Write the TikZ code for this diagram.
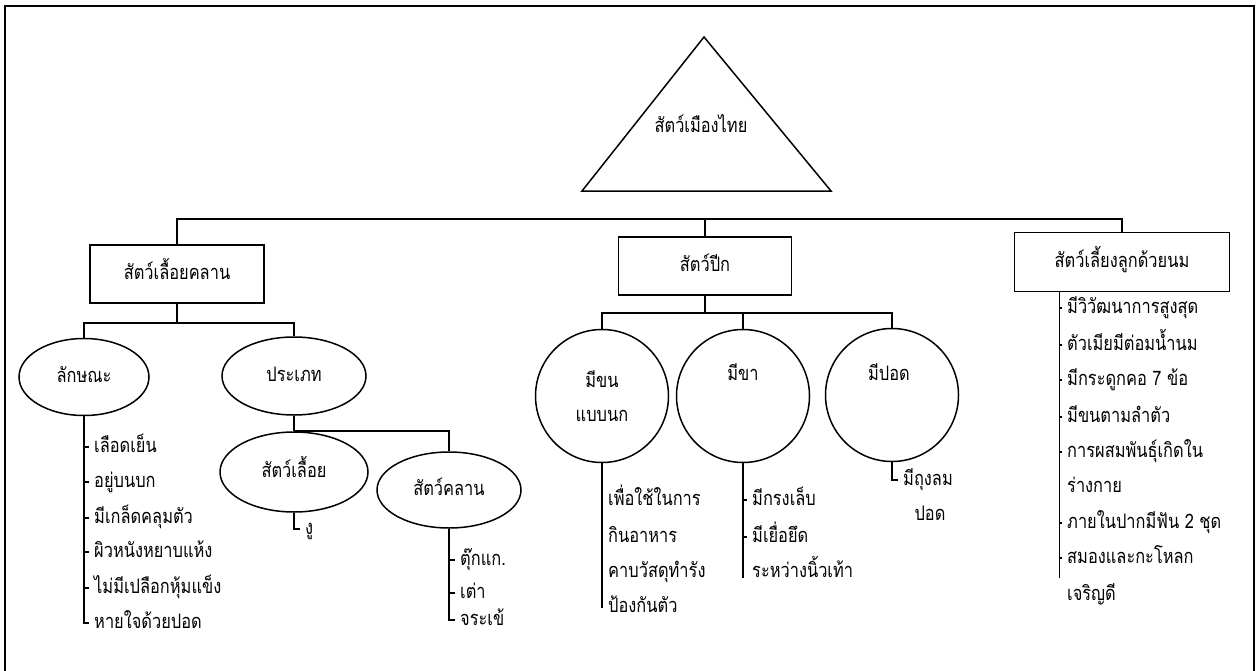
\documentclass[tikz,border=0pt]{standalone}
\usepackage{fontspec}
\newfontfamily\thaifont[Script=Thai,FakeStretch=0.82]{Loma}
\usetikzlibrary{shapes.geometric,calc}
\begin{document}
\begin{tikzpicture}[x=1pt,y=-1pt,
  th/.style={font=\thaifont\fontsize{20}{34}\selectfont},
  conn/.style={line width=1.6pt},
  box/.style={draw,line width=1.7pt,th,inner sep=0pt,text height=10pt,text depth=0pt},
  ell/.style={draw,ellipse,line width=1.5pt,th,inner sep=0pt,text height=10pt,text depth=0pt},
  circ/.style={draw,circle,line width=1.5pt,th,inner sep=0pt,minimum size=133pt,align=center},
  lbl/.style={th,inner sep=0pt,text height=10pt,text depth=0pt},
  item/.style={th,anchor=west,inner xsep=5pt,inner ysep=0pt,text height=10pt,text depth=0pt}]
\useasboundingbox (0,0) rectangle (1257,671);
% frame
\draw[line width=1.8pt] (5,671) -- (5,6) -- (1254,6) -- (1254,671);
% root triangle
\coordinate (tA) at (704,37);
\coordinate (tL) at (582,191);
\coordinate (tR) at (831,191);
\draw[line width=1.5pt] (tA) -- (tL) -- (tR) -- cycle;
\node[lbl] (root) at (701,128) {สัตว์เมืองไทย};
% level 1 boxes
\node[box,minimum width=174pt,minimum height=58pt] (rep) at (177,274) {สัตว์เลื้อยคลาน};
\node[box,minimum width=173pt,minimum height=58pt] (bird) at (705,266) {สัตว์ปีก};
\node[box,minimum width=215pt,minimum height=59pt] (mam) at (1122,262) {สัตว์เลี้ยงลูกด้วยนม};
\draw[conn] (rep.north) -- ++(0,-25) coordinate (hl) -| (mam.north);
\draw[conn] (bird.north) -- (bird.north |- hl);
% reptiles
\node[ell,minimum width=130pt,minimum height=77pt] (lak) at (84,377) {ลักษณะ};
\node[ell,minimum width=144pt,minimum height=78pt] (prap) at (294,376) {ประเภท};
\draw[conn] (rep.south) -- ++(0,19) coordinate (rb);
\draw[conn] (lak.north) |- (rb) -| (prap.north);
\node[ell,minimum width=148pt,minimum height=80pt] (slw) at (294,472) {สัตว์เลื้อย};
\node[ell,minimum width=144pt,minimum height=76pt] (skl) at (449,490) {สัตว์คลาน};
\draw[conn] (prap.south) -- (slw.north);
\draw[conn] (slw.north) -| (skl.north);
% characteristics list
\node[item] (l1) at (89,447) {เลือดเย็น};
\node[item] (l2) at (89,482) {อยู่บนบก};
\node[item] (l3) at (89,518) {มีเกล็ดคลุมตัว};
\node[item] (l4) at (89,552) {ผิวหนังหยาบแห้ง};
\node[item] (l5) at (89,588) {ไม่มีเปลือกหุ้มแข็ง};
\node[item] (l6) at (89,623) {หายใจด้วยปอด};
\draw[conn] (lak.south) |- (l6.west);
\foreach \n in {l1,l2,l3,l4,l5} \draw[conn] (lak.south |- \n.west) -- (\n.west);
% snake
\node[item] (s1) at (300,529) {งู};
\draw[conn] (slw.south) |- (s1.west);
% crawling
\node[item] (k1) at (455,560) {ตุ๊กแก.};
\node[item] (k2) at (455,593) {เต่า};
\node[item] (k3) at (455,620) {จระเข้};
\draw[conn] (skl.south) |- (k3.west);
\foreach \n in {k1,k2} \draw[conn] (skl.south |- \n.west) -- (\n.west);
% birds
\node[circ] (c1) at (602,396) {มีขน\\แบบนก};
\node[circ] (c2) at (743,396) {};
\node[lbl] (c2t) at (743,375) {มีขา};
\node[circ] (c3) at (892,395) {};
\node[lbl] (c3t) at (889,375) {มีปอด};
\draw[conn] (bird.south) -- ++(0,17) coordinate (bb);
\draw[conn] (c1.north) |- (bb) -| (c3.north);
\draw[conn] (c2.north) -- (c2.north |- bb);
\node[item] (b1) at (603,500) {เพื่อใช้ในการ};
\node[item] (b2) at (603,537) {กินอาหาร};
\node[item] (b3) at (603,572) {คาบวัสดุทำรัง};
\node[item] (b4) at (603,607) {ป้องกันตัว};
\draw[conn] (c1.south) |- (b4.west);
\foreach \n in {b1,b3} \draw[conn] (c1.south |- \n.west) -- (\n.west);
\node[item] (g1) at (747,500) {มีกรงเล็บ};
\node[item] (g2) at (747,537) {มีเยื่อยึด};
\node[item] (g3) at (747,572) {ระหว่างนิ้วเท้า};
\coordinate (gend) at (743,578);
\draw[conn] (c2.south) -- (gend);
\foreach \n in {g1,g2} \draw[conn] (c2.south |- \n.west) -- (\n.west);
\node[item] (p1) at (898,480) {มีถุงลม};
\node[lbl] (p2) at (930,515) {ปอด};
\draw[conn] (c3.south) |- (p1.west);
% mammals
\coordinate (mtop) at ($(mam.south west)+(46,0)$);
\coordinate (mend) at ($(mtop)+(0,286)$);
\node[item] (m1) at (1062,308) {มีวิวัฒนาการสูงสุด};
\node[item] (m2) at (1062,345) {ตัวเมียมีต่อมน้ำนม};
\node[item] (m3) at (1062,380) {มีกระดูกคอ 7 ข้อ};
\node[item] (m4) at (1062,417) {มีขนตามลำตัว};
\node[item] (m5) at (1062,452) {การผสมพันธุ์เกิดใน};
\node[item] (m6) at (1062,487) {ร่างกาย};
\node[item] (m7) at (1062,523) {ภายในปากมีฟัน 2 ชุด};
\node[item] (m8) at (1062,558) {สมองและกะโหลก};
\node[item] (m9) at (1062,595) {เจริญดี};
\draw[conn] (mtop) -- (mend);
\foreach \n in {m1,m2,m3,m4,m5,m7,m8} \draw[conn] (mtop |- \n.west) -- (\n.west);
\end{tikzpicture}
\end{document}
